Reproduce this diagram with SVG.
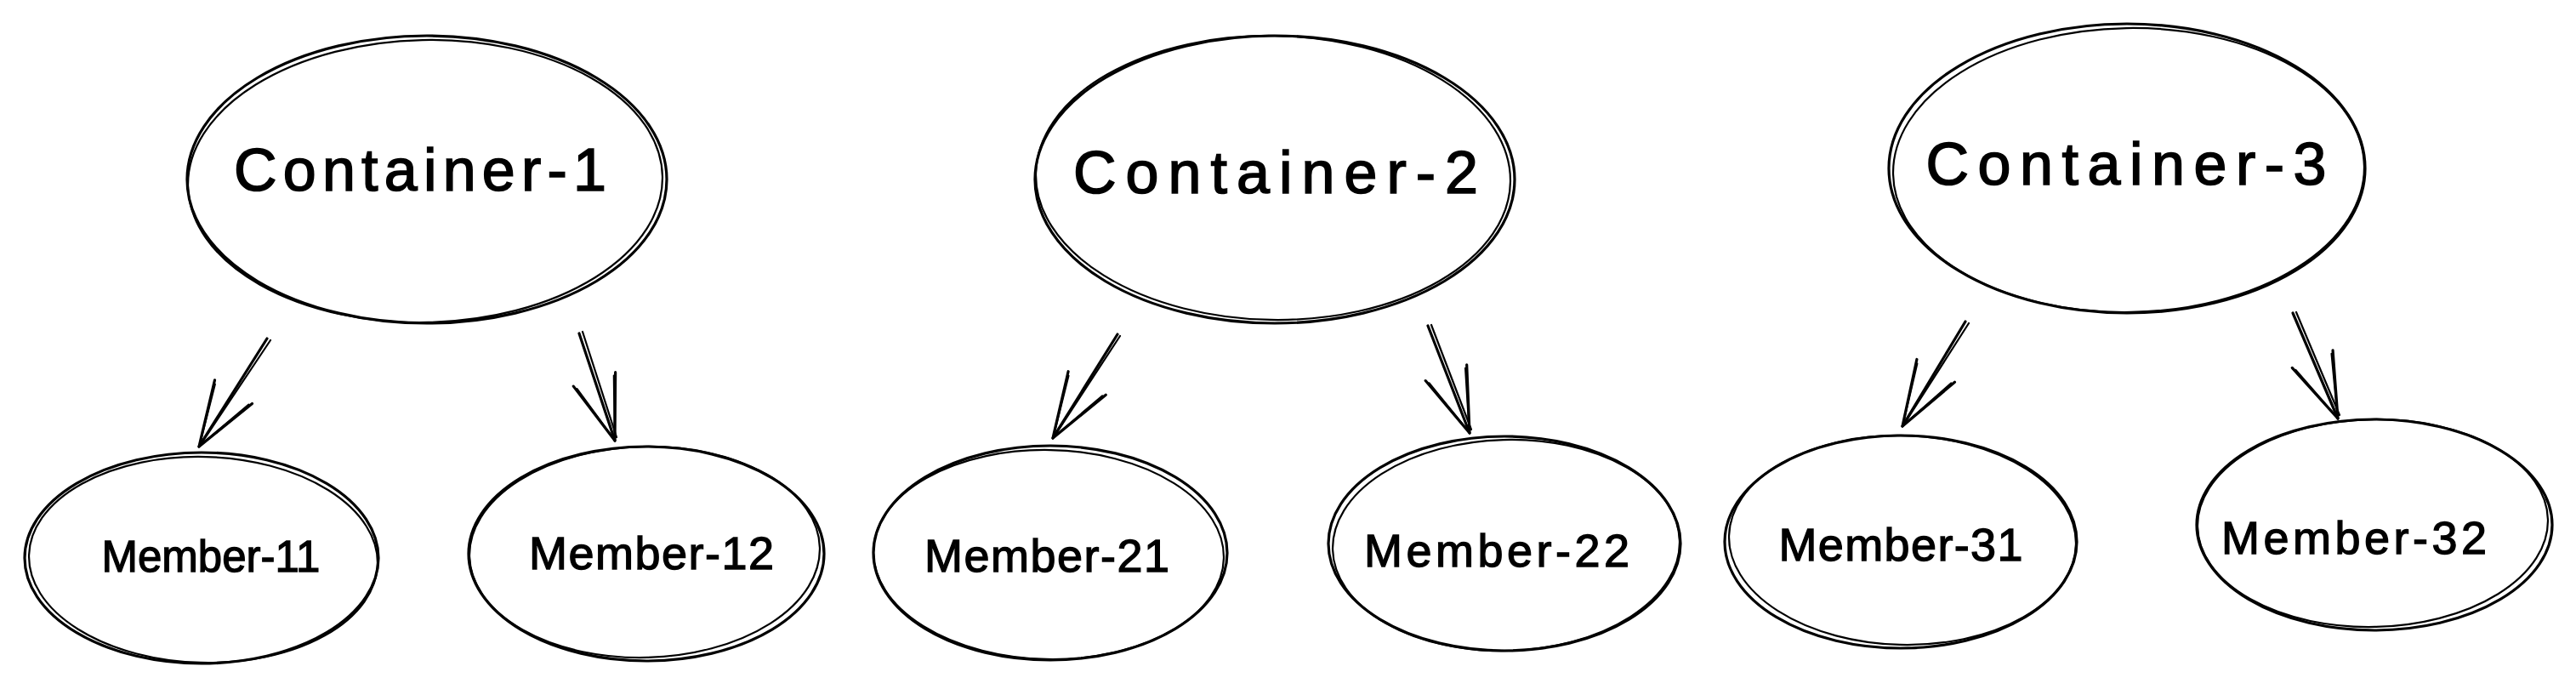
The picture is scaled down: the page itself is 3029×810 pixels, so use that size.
<svg xmlns="http://www.w3.org/2000/svg" width="3029" height="810" viewBox="0 0 3029 810">
<style>
.sk{fill:none;stroke:#000;stroke-width:3.2;stroke-linecap:round;stroke-linejoin:round}
.sk2{fill:none;stroke:#000;stroke-width:2.2;stroke-linecap:round}
.ct{font-family:"Liberation Sans",Arial,sans-serif;font-size:70px;fill:#000;stroke:#000;stroke-width:1.6;text-anchor:middle}
.mt{font-family:"Liberation Sans",Arial,sans-serif;font-size:54px;fill:#000;stroke:#000;stroke-width:1.3;text-anchor:middle}
</style>
<defs>
<marker id="ah" markerUnits="userSpaceOnUse" markerWidth="90" markerHeight="70" refX="80" refY="35" orient="auto" viewBox="0 0 90 70">
<path d="M4 9 L80 35 L4 61" fill="none" stroke="#000" stroke-width="3.2" stroke-linecap="round" stroke-linejoin="round"/>
<path d="M7 12 L79 35 L8 58" fill="none" stroke="#000" stroke-width="2" stroke-linecap="round"/>
</marker>
</defs>
<rect width="3029" height="810" fill="#fff"/>
<g id="connectors">
<path class="sk" d="M314 398 L234 525" marker-end="url(#ah)"/>
<path class="sk2" d="M318 400 L237 521"/>
<path class="sk" d="M681 392 L723 518" marker-end="url(#ah)"/>
<path class="sk2" d="M685 390 L725 514"/>
<path class="sk" d="M1314 393 L1238 515" marker-end="url(#ah)"/>
<path class="sk2" d="M1317 395 L1241 511"/>
<path class="sk" d="M1679 383 L1728 509" marker-end="url(#ah)"/>
<path class="sk2" d="M1683 382 L1730 505"/>
<path class="sk" d="M2311 378 L2237 501" marker-end="url(#ah)"/>
<path class="sk2" d="M2315 380 L2240 497"/>
<path class="sk" d="M2696 368 L2749 492" marker-end="url(#ah)"/>
<path class="sk2" d="M2700 367 L2751 488"/>
</g>
<g id="container-1">
<ellipse class="sk" cx="502" cy="211" rx="282" ry="169"/>
<ellipse class="sk2" cx="500" cy="213" rx="279" ry="166" transform="rotate(-1.2 500 213)"/>
<text class="ct" x="494" y="224" textLength="438" lengthAdjust="spacing">Container-1</text>
</g>
<g id="container-2">
<ellipse class="sk" cx="1499" cy="211" rx="282" ry="169"/>
<ellipse class="sk2" cx="1497" cy="209" rx="279" ry="167" transform="rotate(1 1497 209)"/>
<text class="ct" x="1500" y="227" textLength="476" lengthAdjust="spacing">Container-2</text>
</g>
<g id="container-3">
<ellipse class="sk" cx="2501" cy="198" rx="280" ry="170"/>
<ellipse class="sk2" cx="2503" cy="200" rx="277" ry="167" transform="rotate(-1 2503 200)"/>
<text class="ct" x="2500" y="217" textLength="471" lengthAdjust="spacing">Container-3</text>
</g>
<g id="member-11">
<ellipse class="sk" cx="237" cy="656" rx="208" ry="124"/>
<ellipse class="sk2" cx="239" cy="658" rx="205" ry="121" transform="rotate(1.5 239 658)"/>
<text class="mt" x="248" y="672" style="font-size:51px">Member-11</text>
</g>
<g id="member-12">
<ellipse class="sk" cx="760" cy="651" rx="209" ry="126"/>
<ellipse class="sk2" cx="758" cy="649" rx="206" ry="124" transform="rotate(-1.5 758 649)"/>
<text class="mt" x="766" y="669" textLength="288" lengthAdjust="spacing">Member-12</text>
</g>
<g id="member-21">
<ellipse class="sk" cx="1235" cy="650" rx="208" ry="126"/>
<ellipse class="sk2" cx="1233" cy="652" rx="206" ry="123" transform="rotate(1.2 1233 652)"/>
<text class="mt" x="1231" y="672" textLength="288" lengthAdjust="spacing">Member-21</text>
</g>
<g id="member-22">
<ellipse class="sk" cx="1769" cy="639" rx="207" ry="126"/>
<ellipse class="sk2" cx="1771" cy="641" rx="204" ry="124" transform="rotate(-1.5 1771 641)"/>
<text class="mt" x="1760" y="666" textLength="312" lengthAdjust="spacing">Member-22</text>
</g>
<g id="member-31">
<ellipse class="sk" cx="2235" cy="637" rx="207" ry="125"/>
<ellipse class="sk2" cx="2237" cy="635" rx="204" ry="123" transform="rotate(1.5 2237 635)"/>
<text class="mt" x="2235" y="659" textLength="287" lengthAdjust="spacing">Member-31</text>
</g>
<g id="member-32">
<ellipse class="sk" cx="2792" cy="617" rx="209" ry="124"/>
<ellipse class="sk2" cx="2790" cy="615" rx="206" ry="122" transform="rotate(-1.2 2790 615)"/>
<text class="mt" x="2768" y="651" textLength="312" lengthAdjust="spacing">Member-32</text>
</g>
</svg>
